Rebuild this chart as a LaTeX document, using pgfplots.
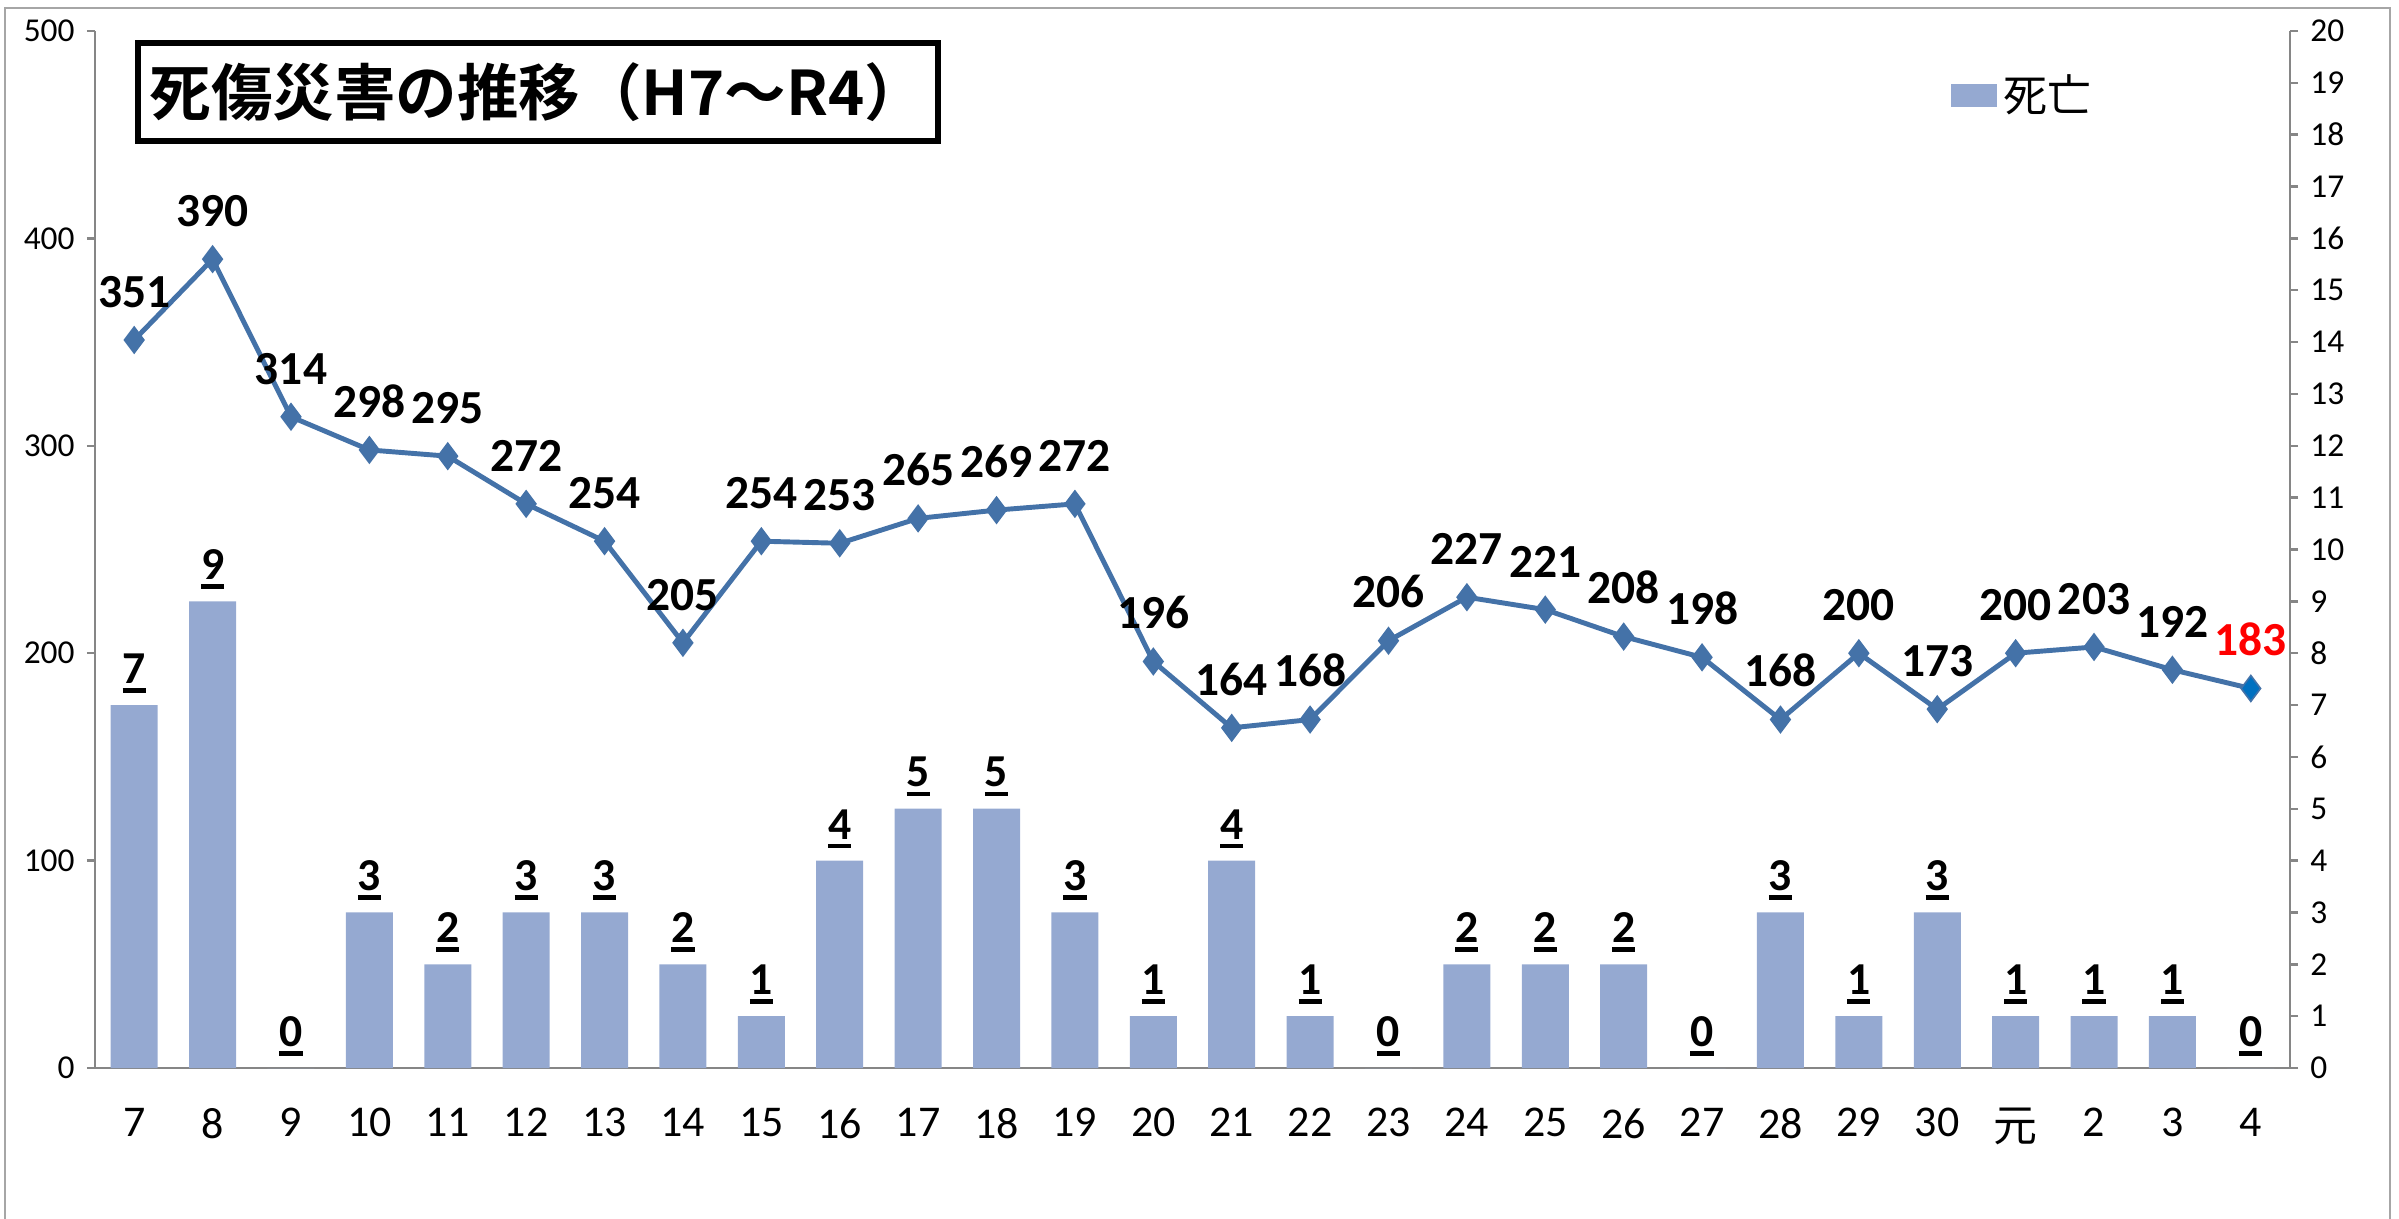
\documentclass[border=0pt]{standalone}
\usepackage{pgfplots}
\pgfplotsset{compat=1.18}
\usepackage{pgfplotstable}
\usepackage{fontspec}
\setmainfont{Carlito}
\newfontfamily\cjk{Noto Sans CJK JP}[BoldFont={Noto Sans CJK JP Bold}]
\definecolor{barc}{HTML}{95A9D1}
\definecolor{linec}{HTML}{4472A8}
\definecolor{lastm}{HTML}{0070C0}
\definecolor{axg}{HTML}{868686}
\newcommand\ulb[1]{\vtop{\hbox{#1}\kern1.3pt\hrule height 1.3pt}}
\pgfplotstableread{
x d c
0 7 351
1 9 390
2 0 314
3 3 298
4 2 295
5 3 272
6 3 254
7 2 205
8 1 254
9 4 253
10 5 265
11 5 269
12 3 272
13 1 196
14 4 164
15 1 168
16 0 206
17 2 227
18 2 221
19 2 208
20 0 198
21 3 168
22 1 200
23 3 173
24 1 200
25 1 203
26 1 192
27 0 183
}\data
\begin{document}
\begin{tikzpicture}
\useasboundingbox (0,0) rectangle (23.99cm,12.18cm);
\draw[color=gray!70, line width=0.6pt] (0.05cm,-1cm) -- (0.05cm,12.1cm) -- (23.90cm,12.1cm) -- (23.90cm,-1cm);
\pgfplotsset{
  base/.style={
    width=21.95cm, height=10.37cm, scale only axis,
    at={(0.95cm,1.50cm)}, anchor=south west,
    xmin=-0.5, xmax=27.5,
    /pgf/number format/assume math mode=true,
    axis line style={axg, line width=0.7pt},
    tick style={axg, line width=0.7pt},
    tick align=outside,
    major tick length=0.08cm,
  }
}
% bars on the right axis
\begin{axis}[base,
  ymin=0, ymax=20, ytick={0,1,...,20},
  axis y line*=right, axis x line*=bottom,
  yticklabel style={font=\fontsize{9.5}{11}\selectfont, black},
  xtick={0,1,...,27},
  xticklabels={7,8,9,10,11,12,13,14,15,16,17,18,19,20,21,22,23,24,25,26,27,28,29,30,{\cjk 元},2,3,4},
  xticklabel style={font=\fontsize{12.5}{14}\selectfont, black, yshift=-0.2cm},
  x tick style={draw=none},
  minor xtick={-0.5,0.5,...,27.5},
  minor x tick style={axg, line width=0.7pt},
  minor tick length=0.13cm,
  legend style={at={(rel axis cs:0.845,0.938)}, anchor=west, draw=none, fill=none,
    font=\cjk\fontsize{12.5}{14}\selectfont, inner sep=0pt, cells={anchor=west}},
]
\addplot[ybar, bar width=0.47cm, fill=barc, draw=none,
  legend image code/.code={\fill[barc] (0cm,-0.115cm) rectangle (0.46cm,0.115cm);},
  nodes near coords={\ulb{\pgfmathprintnumber{\pgfplotspointmeta}}},
  nodes near coords style={font=\bfseries\fontsize{13}{15}\selectfont, text=black, anchor=south, yshift=0.0cm}]
  table[x=x, y=d]{\data};
\addlegendentry{死亡}
\end{axis}
% line on the left axis
\begin{axis}[base,
  ymin=0, ymax=500, ytick={0,100,...,500},
  axis y line*=left, hide x axis,
  yticklabel style={font=\fontsize{9.5}{11}\selectfont, black},
]
\addplot[linec, line width=1.4pt, mark=diamond*, mark size=2.9pt, mark options={fill=linec, draw=linec}]
  table[x=x, y=c]{\data};
\addplot[draw=none, mark=none, restrict x to domain=0:26,
  nodes near coords, nodes near coords style={font=\bfseries\fontsize{13.5}{15}\selectfont, text=black, anchor=south, yshift=0.2cm}]
  table[x=x, y=c]{\data};
\addplot[draw=none, mark=diamond*, mark size=2.9pt, mark options={fill=lastm, draw=lastm}, restrict x to domain=27:27,
  nodes near coords, nodes near coords style={font=\bfseries\fontsize{13.5}{15}\selectfont, text=red, anchor=south, yshift=0.2cm}]
  table[x=x, y=c]{\data};
\end{axis}
\node[draw, line width=1.8pt, minimum width=8.0cm, minimum height=0.98cm, inner sep=0pt,
  font=\cjk\bfseries\fontsize{17.5}{20}\selectfont] at (5.38cm,11.26cm) {死傷災害の推移（H7～R4）};
\end{tikzpicture}
\end{document}
